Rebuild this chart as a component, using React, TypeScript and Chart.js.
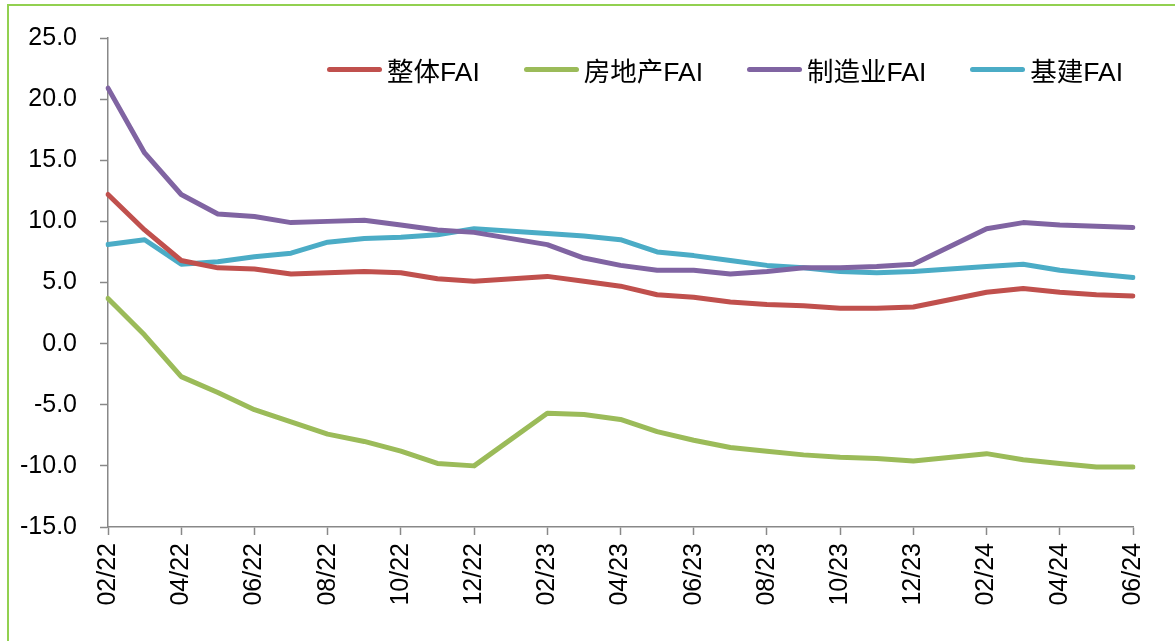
import React, { useEffect, useRef } from 'react';
import { Chart, registerables } from 'chart.js';

Chart.register(...registerables);

const months = [
  '02/22', '03/22', '04/22', '05/22', '06/22', '07/22', '08/22', '09/22', '10/22', '11/22', '12/22',
  '01/23', '02/23', '03/23', '04/23', '05/23', '06/23', '07/23', '08/23', '09/23', '10/23', '11/23', '12/23',
  '01/24', '02/24', '03/24', '04/24', '05/24', '06/24',
];

const totalFAI = [12.2, 9.3, 6.8, 6.2, 6.1, 5.7, 5.8, 5.9, 5.8, 5.3, 5.1, null, 5.5, 5.1, 4.7, 4.0, 3.8, 3.4, 3.2, 3.1, 2.9, 2.9, 3.0, null, 4.2, 4.5, 4.2, 4.0, 3.9];
const realEstateFAI = [3.7, 0.7, -2.7, -4.0, -5.4, -6.4, -7.4, -8.0, -8.8, -9.8, -10.0, null, -5.7, -5.8, -6.2, -7.2, -7.9, -8.5, -8.8, -9.1, -9.3, -9.4, -9.6, null, -9.0, -9.5, -9.8, -10.1, -10.1];
const manufacturingFAI = [20.9, 15.6, 12.2, 10.6, 10.4, 9.9, 10.0, 10.1, 9.7, 9.3, 9.1, null, 8.1, 7.0, 6.4, 6.0, 6.0, 5.7, 5.9, 6.2, 6.2, 6.3, 6.5, null, 9.4, 9.9, 9.7, 9.6, 9.5];
const infraFAI = [8.1, 8.5, 6.5, 6.7, 7.1, 7.4, 8.3, 8.6, 8.7, 8.9, 9.4, null, 9.0, 8.8, 8.5, 7.5, 7.2, 6.8, 6.4, 6.2, 5.9, 5.8, 5.9, null, 6.3, 6.5, 6.0, 5.7, 5.4];

const seriesNames = ['整体FAI', '房地产FAI', '制造业FAI', '基建FAI'];
const seriesColors = ['#C0504D', '#9BBB59', '#8064A2', '#4BACC6'];
const seriesData = [totalFAI, realEstateFAI, manufacturingFAI, infraFAI];

const yMin = -15;
const yMax = 25;
const yStep = 5;

const FONT = '"Liberation Sans", Arial, "Noto Sans CJK SC", sans-serif';

export default function App() {
  const canvasRef = useRef<HTMLCanvasElement | null>(null);

  useEffect(() => {
    if (!canvasRef.current) return;
    const chart = new Chart(canvasRef.current, {
      type: 'line',
      data: {
        labels: months,
        datasets: seriesNames.map((name, i) => ({
          label: name,
          data: seriesData[i],
          borderColor: seriesColors[i],
          backgroundColor: seriesColors[i],
          borderWidth: 5,
          pointRadius: 0,
          pointHoverRadius: 0,
          spanGaps: true,
          tension: 0,
          borderCapStyle: 'round',
          borderJoinStyle: 'round',
          fill: false,
        })),
      },
      options: {
        animation: false,
        responsive: false,
        maintainAspectRatio: false,
        layout: { padding: { top: 37, right: 42, bottom: 0, left: 0 } },
        plugins: {
          legend: { display: false },
          tooltip: { enabled: false },
        },
        scales: {
          x: {
            type: 'category',
            offset: false,
            grid: {
              drawOnChartArea: false,
              drawTicks: true,
              tickLength: 8,
              tickWidth: 1.5,
              tickColor: (ctx: any) => (ctx.index % 2 === 0 ? '#888888' : 'rgba(0,0,0,0)'),
            },
            border: { color: '#888888', width: 1.5 },
            ticks: {
              autoSkip: false,
              maxRotation: 90,
              minRotation: 90,
              padding: 8,
              color: '#000000',
              font: { size: 25, family: FONT },
              callback: (_v: any, i: number) => (i % 2 === 0 ? months[i] : ''),
            },
            afterFit: (s: any) => {
              s.height = 114;
            },
          },
          y: {
            min: yMin,
            max: yMax,
            grid: {
              drawOnChartArea: false,
              drawTicks: true,
              tickLength: 8,
              tickWidth: 1.5,
              tickColor: '#888888',
            },
            border: { color: '#888888', width: 1.5 },
            ticks: {
              stepSize: yStep,
              padding: 23,
              color: '#000000',
              font: { size: 25, family: FONT },
              callback: (v: any) => Number(v).toFixed(1),
            },
            afterFit: (s: any) => {
              s.width = 108;
            },
          },
        },
      },
    });
    return () => chart.destroy();
  }, []);

  return (
    <div
      style={{
        position: 'fixed',
        left: 0,
        top: 0,
        width: 1175,
        height: 641,
        overflow: 'hidden',
        background: '#ffffff',
      }}
    >
      <div
        style={{
          position: 'absolute',
          left: 7,
          top: 4,
          width: 1300,
          height: 800,
          borderLeft: '2px solid #92D050',
          borderTop: '2px solid #92D050',
        }}
      />
      <canvas ref={canvasRef} width={1175} height={641} style={{ position: 'absolute', left: 0, top: 0 }} />
      <div
        style={{
          position: 'absolute',
          left: 327,
          top: 54,
          height: 30,
          display: 'flex',
          alignItems: 'center',
          fontFamily: FONT,
          fontSize: 26.5,
          color: '#000',
          whiteSpace: 'nowrap',
        }}
      >
        {seriesNames.map((name, i) => (
          <div key={name} style={{ display: 'flex', alignItems: 'center', marginRight: 44 }}>
            <div style={{ width: 55, height: 5, borderRadius: 3, background: seriesColors[i], marginRight: 5 }} />
            <span>{name}</span>
          </div>
        ))}
      </div>
    </div>
  );
}
